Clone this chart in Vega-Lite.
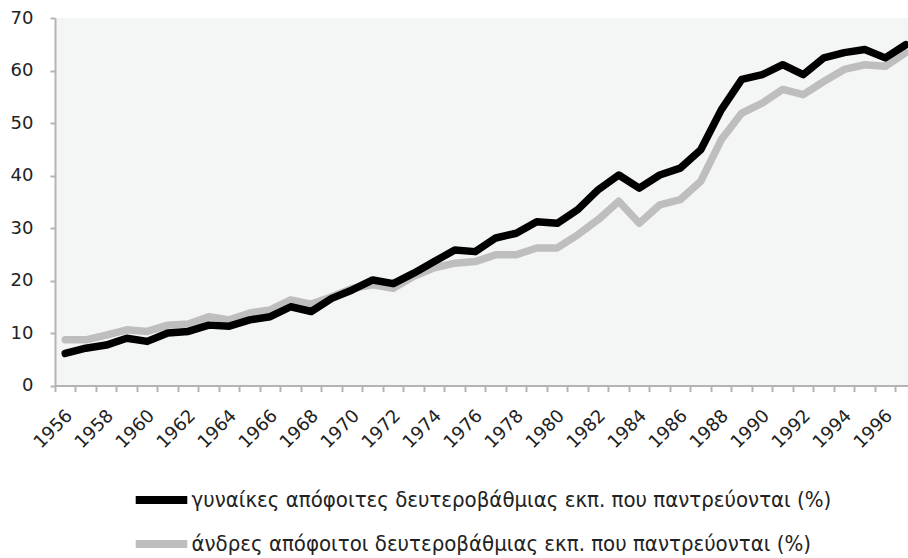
{
  "$schema": "https://vega.github.io/schema/vega-lite/v6.json",
  "autosize": {"type": "none"},
  "padding": {"left": 55, "top": 18, "right": 0, "bottom": 172.5},
  "width": 853,
  "height": 367.5,
  "background": "white",
  "config": {
    "view": {"fill": "#f4f6f6", "stroke": null},
    "font": "DejaVu Sans"
  },
  "data": {
    "values": [
      {"year": 1956, "series": "m", "value": 8.7},
      {"year": 1957, "series": "m", "value": 8.7},
      {"year": 1958, "series": "m", "value": 9.6},
      {"year": 1959, "series": "m", "value": 10.6},
      {"year": 1960, "series": "m", "value": 10.3},
      {"year": 1961, "series": "m", "value": 11.5},
      {"year": 1962, "series": "m", "value": 11.7},
      {"year": 1963, "series": "m", "value": 13.1},
      {"year": 1964, "series": "m", "value": 12.5},
      {"year": 1965, "series": "m", "value": 13.8},
      {"year": 1966, "series": "m", "value": 14.4},
      {"year": 1967, "series": "m", "value": 16.3},
      {"year": 1968, "series": "m", "value": 15.5},
      {"year": 1969, "series": "m", "value": 16.9},
      {"year": 1970, "series": "m", "value": 18.5},
      {"year": 1971, "series": "m", "value": 19.2},
      {"year": 1972, "series": "m", "value": 18.5},
      {"year": 1973, "series": "m", "value": 20.8},
      {"year": 1974, "series": "m", "value": 22.4},
      {"year": 1975, "series": "m", "value": 23.3},
      {"year": 1976, "series": "m", "value": 23.6},
      {"year": 1977, "series": "m", "value": 24.9},
      {"year": 1978, "series": "m", "value": 24.9},
      {"year": 1979, "series": "m", "value": 26.2},
      {"year": 1980, "series": "m", "value": 26.2},
      {"year": 1981, "series": "m", "value": 28.7},
      {"year": 1982, "series": "m", "value": 31.6},
      {"year": 1983, "series": "m", "value": 35.1},
      {"year": 1984, "series": "m", "value": 30.9},
      {"year": 1985, "series": "m", "value": 34.4},
      {"year": 1986, "series": "m", "value": 35.4},
      {"year": 1987, "series": "m", "value": 38.9},
      {"year": 1988, "series": "m", "value": 46.8},
      {"year": 1989, "series": "m", "value": 51.9},
      {"year": 1990, "series": "m", "value": 53.8},
      {"year": 1991, "series": "m", "value": 56.4},
      {"year": 1992, "series": "m", "value": 55.4},
      {"year": 1993, "series": "m", "value": 57.9},
      {"year": 1994, "series": "m", "value": 60.2},
      {"year": 1995, "series": "m", "value": 61.1},
      {"year": 1996, "series": "m", "value": 60.8},
      {"year": 1997, "series": "m", "value": 63.4},
      {"year": 1956, "series": "w", "value": 6.1},
      {"year": 1957, "series": "w", "value": 7.1},
      {"year": 1958, "series": "w", "value": 7.7},
      {"year": 1959, "series": "w", "value": 9.0},
      {"year": 1960, "series": "w", "value": 8.4},
      {"year": 1961, "series": "w", "value": 10.0},
      {"year": 1962, "series": "w", "value": 10.3},
      {"year": 1963, "series": "w", "value": 11.5},
      {"year": 1964, "series": "w", "value": 11.3},
      {"year": 1965, "series": "w", "value": 12.5},
      {"year": 1966, "series": "w", "value": 13.1},
      {"year": 1967, "series": "w", "value": 15.0},
      {"year": 1968, "series": "w", "value": 14.1},
      {"year": 1969, "series": "w", "value": 16.6},
      {"year": 1970, "series": "w", "value": 18.2},
      {"year": 1971, "series": "w", "value": 20.1},
      {"year": 1972, "series": "w", "value": 19.4},
      {"year": 1973, "series": "w", "value": 21.4},
      {"year": 1974, "series": "w", "value": 23.6},
      {"year": 1975, "series": "w", "value": 25.8},
      {"year": 1976, "series": "w", "value": 25.5},
      {"year": 1977, "series": "w", "value": 28.1},
      {"year": 1978, "series": "w", "value": 29.0},
      {"year": 1979, "series": "w", "value": 31.2},
      {"year": 1980, "series": "w", "value": 30.9},
      {"year": 1981, "series": "w", "value": 33.5},
      {"year": 1982, "series": "w", "value": 37.3},
      {"year": 1983, "series": "w", "value": 40.1},
      {"year": 1984, "series": "w", "value": 37.6},
      {"year": 1985, "series": "w", "value": 40.1},
      {"year": 1986, "series": "w", "value": 41.4},
      {"year": 1987, "series": "w", "value": 44.9},
      {"year": 1988, "series": "w", "value": 52.5},
      {"year": 1989, "series": "w", "value": 58.3},
      {"year": 1990, "series": "w", "value": 59.2},
      {"year": 1991, "series": "w", "value": 61.1},
      {"year": 1992, "series": "w", "value": 59.2},
      {"year": 1993, "series": "w", "value": 62.4},
      {"year": 1994, "series": "w", "value": 63.4},
      {"year": 1995, "series": "w", "value": 64.0},
      {"year": 1996, "series": "w", "value": 62.4},
      {"year": 1997, "series": "w", "value": 64.9}
    ]
  },
  "mark": {"type": "line", "strokeWidth": 7.5, "strokeJoin": "round", "strokeCap": "round", "clip": true},
  "encoding": {
    "x": {
      "field": "year",
      "type": "quantitative",
      "scale": {"domain": [1955.5, 1997.11], "nice": false, "zero": false},
      "axis": {
        "title": null,
        "values": [1955.5, 1956.5, 1957.5, 1958.5, 1959.5, 1960.5, 1961.5, 1962.5, 1963.5, 1964.5, 1965.5, 1966.5, 1967.5, 1968.5, 1969.5, 1970.5, 1971.5, 1972.5, 1973.5, 1974.5, 1975.5, 1976.5, 1977.5, 1978.5, 1979.5, 1980.5, 1981.5, 1982.5, 1983.5, 1984.5, 1985.5, 1986.5, 1987.5, 1988.5, 1989.5, 1990.5, 1991.5, 1992.5, 1993.5, 1994.5, 1995.5, 1996.5],
        "labelExpr": "(datum.value + 0.5) % 2 == 0 ? '' + (datum.value + 0.5) : ''",
        "labelOffset": 8,
        "labelAngle": -45,
        "labelAlign": "right",
        "labelBaseline": "top",
        "labelFontSize": 18,
        "labelColor": "#222222",
        "labelPadding": 15,
        "labelFlush": false,
        "labelOverlap": false,
        "labelBound": false,
        "grid": false,
        "domainColor": "#b4b4b4",
        "domainWidth": 2,
        "tickColor": "#b4b4b4",
        "tickWidth": 2,
        "tickSize": 6
      }
    },
    "y": {
      "field": "value",
      "type": "quantitative",
      "scale": {"domain": [0, 70], "nice": false},
      "axis": {
        "title": null,
        "values": [0, 10, 20, 30, 40, 50, 60, 70],
        "labelFontSize": 18,
        "labelColor": "#222222",
        "labelPadding": 17,
        "grid": false,
        "domainColor": "#b4b4b4",
        "domainWidth": 2,
        "tickColor": "#b4b4b4",
        "tickWidth": 2,
        "tickSize": 5
      }
    },
    "color": {
      "field": "series",
      "type": "nominal",
      "scale": {"domain": ["w", "m"], "range": ["#000000", "#bebebe"]},
      "legend": {
        "title": null,
        "orient": "none",
        "legendX": 81,
        "legendY": 456.5,
        "direction": "vertical",
        "padding": 0,
        "symbolType": "M-1.2,0H1.2",
        "symbolSize": 1849,
        "symbolStrokeWidth": 8,
        "labelOffset": 4.5,
        "rowPadding": 2,
        "labelFont": "DejaVu Sans Condensed",
        "labelFontSize": 22,
        "labelColor": "#222222",
        "labelLimit": 0,
        "labelExpr": "datum.value == 'w' ? 'γυναίκες απόφοιτες δευτεροβάθμιας εκπ. που παντρεύονται (%)' : 'άνδρες απόφοιτοι δευτεροβάθμιας εκπ. που παντρεύονται (%)'"
      }
    }
  }
}
